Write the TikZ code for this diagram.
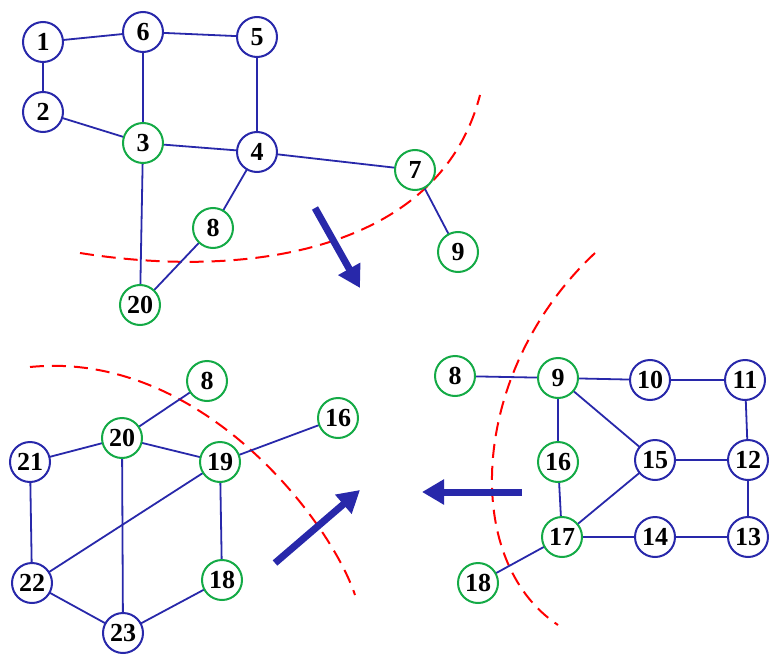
\documentclass[tikz,border=0pt]{standalone}
\usepackage{fontspec}
\setmainfont{Liberation Serif}
\usetikzlibrary{arrows.meta}
\definecolor{edgeblue}{RGB}{40,40,170}
\definecolor{ringgreen}{RGB}{20,170,70}
\tikzset{
  vb/.style={circle,draw=edgeblue,line width=2pt,fill=white,minimum size=40pt,inner sep=0pt,font=\fontsize{26}{26}\selectfont\bfseries},
  vg/.style={vb,draw=ringgreen},
  cut/.style={red,line width=2pt,dash pattern=on 14pt off 8pt},
  move/.style={edgeblue,line width=7pt,-{Triangle[length=22pt,width=24pt]}}
}
\begin{document}
\begin{tikzpicture}[x=1pt,y=-1pt]
\useasboundingbox (0,0) rectangle (783,671);
% cut lines
\draw[cut] (80,253) .. controls (250,280) and (440,250) .. (480,95);
\draw[cut] (30,367) .. controls (200,350) and (330,520) .. (355,595);
\draw[cut] (595,253) .. controls (470,370) and (460,560) .. (558,625);
% edges
\coordinate (a1) at (43,42);
\coordinate (a6) at (143,32);
\coordinate (a5) at (257,37);
\coordinate (a2) at (43,112);
\coordinate (a3) at (143,143);
\coordinate (a4) at (257,152);
\coordinate (a7) at (415,170);
\coordinate (a8) at (213,228);
\coordinate (a9) at (458,252);
\coordinate (a20) at (140,305);
\coordinate (b8) at (207,381);
\coordinate (b20) at (122,438);
\coordinate (b16) at (338,418);
\coordinate (b21) at (30,462);
\coordinate (b19) at (220,462);
\coordinate (b22) at (32,583);
\coordinate (b18) at (222,580);
\coordinate (b23) at (123,633);
\coordinate (c8) at (455,376);
\coordinate (c9) at (558,378);
\coordinate (c10) at (650,380);
\coordinate (c11) at (745,380);
\coordinate (c16) at (558,462);
\coordinate (c15) at (655,460);
\coordinate (c12) at (748,460);
\coordinate (c17) at (562,537);
\coordinate (c14) at (655,537);
\coordinate (c13) at (748,537);
\coordinate (c18) at (478,583);
\foreach \u/\v in {a1/a6,a1/a2,a6/a5,a6/a3,a2/a3,a5/a4,a3/a4,a4/a7,a4/a8,a7/a9,a3/a20,a8/a20,
  b8/b20,b20/b21,b20/b19,b20/b23,b21/b22,b22/b19,b19/b16,b19/b18,b22/b23,b18/b23,
  c8/c9,c9/c10,c10/c11,c9/c16,c9/c15,c11/c12,c15/c12,c16/c17,c15/c17,c17/c14,c14/c13,c12/c13,c17/c18}
  \draw[edgeblue,line width=1.8pt] (\u) -- (\v);
% upper graph
\node[vb] at (a1) {1};
\node[vb] at (a6) {6};
\node[vb] at (a5) {5};
\node[vb] at (a2) {2};
\node[vg] at (a3) {3};
\node[vb] at (a4) {4};
\node[vg] at (a7) {7};
\node[vg] at (a8) {8};
\node[vg] at (a9) {9};
\node[vg] at (a20) {20};
% lower left graph
\node[vg] at (b8) {8};
\node[vg] at (b20) {20};
\node[vg] at (b16) {16};
\node[vb] at (b21) {21};
\node[vg] at (b19) {19};
\node[vb] at (b22) {22};
\node[vg] at (b18) {18};
\node[vb] at (b23) {23};
% right graph
\node[vg] at (c8) {8};
\node[vg] at (c9) {9};
\node[vb] at (c10) {10};
\node[vb] at (c11) {11};
\node[vg] at (c16) {16};
\node[vb] at (c15) {15};
\node[vb] at (c12) {12};
\node[vg] at (c17) {17};
\node[vb] at (c14) {14};
\node[vb] at (c13) {13};
\node[vg] at (c18) {18};
% arrows
\coordinate (p1) at (315,208); \coordinate (q1) at (360,288);
\coordinate (p2) at (275,563); \coordinate (q2) at (360,490);
\coordinate (p3) at (522,492); \coordinate (q3) at (422,492);
\draw[move] (p1) -- (q1);
\draw[move] (p2) -- (q2);
\draw[move] (p3) -- (q3);
\end{tikzpicture}
\end{document}
